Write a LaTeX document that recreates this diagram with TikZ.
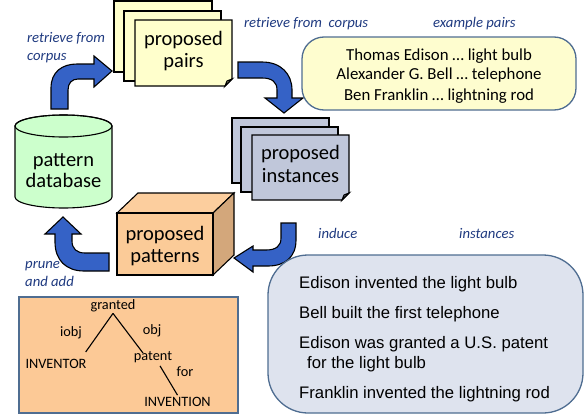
\documentclass[tikz,border=0pt]{standalone}
\usepackage{fontspec}
\setmainfont{Carlito}
\newfontfamily\arialf{Liberation Sans}
\usetikzlibrary{calc}
\definecolor{arrowblue}{HTML}{3562C6}
\definecolor{pairfill}{HTML}{FFFFCC}
\definecolor{instfill}{HTML}{C0C7DA}
\definecolor{dbfill}{HTML}{CCFFCC}
\definecolor{cubefront}{HTML}{FBCB98}
\definecolor{cubeside}{HTML}{D3A77B}
\definecolor{cubetop}{HTML}{FCCE9E}
\definecolor{treefill}{HTML}{FCC996}
\definecolor{boxline}{HTML}{4F6D91}
\definecolor{exfill}{HTML}{FEFDCF}
\definecolor{instbox}{HTML}{DEE3EE}
\definecolor{labelblue}{HTML}{1F3A80}
\newcommand{\foldsheet}[5]{%
  \filldraw[sheet, fill=#1] (#2,#3) -- (#4,#3) -- (#4,#5-7) -- (#4-7,#5) -- (#2,#5) -- cycle;
  \filldraw[sheet, fill=#1!80!black] (#4,#5-7) -- (#4-7,#5) -- (#4-5,#5-5) -- cycle;}
\begin{document}
\begin{tikzpicture}[x=1pt,y=-1pt,
  sheet/.style={draw=black, line width=1.1pt, line join=miter},
  blockarrow/.style={fill=arrowblue, draw=black, line width=1.1pt, line join=miter},
  shapetext/.style={font=\fontsize{20.5}{22.5}\selectfont, align=center, inner sep=0pt},
  lbl/.style={font=\fontsize{14.7}{18}\selectfont\itshape, text=labelblue, inner sep=0pt, align=left},
  treetext/.style={font=\fontsize{14.3}{17}\selectfont, inner sep=0pt},
  exline/.style={font=\fontsize{16.8}{18}\selectfont, inner sep=0pt, anchor=base},
  instline/.style={font=\arialf\fontsize{16.7}{19}\selectfont, inner sep=0pt, anchor=base west},
  roundbox/.style={draw=boxline, line width=1.3pt}]
\useasboundingbox (0,0) rectangle (585,415);

% proposed pairs (stack of sheets)
\filldraw[sheet, fill=pairfill] (114,1) rectangle (212,72);
\filldraw[sheet, fill=pairfill] (124,11) rectangle (221,81);
\foldsheet{pairfill}{135}{20}{232}{86}
\node[shapetext] (pairs) at (183.5,51) {proposed\\pairs};

% proposed instances (stack of sheets)
\filldraw[sheet, fill=instfill] (232,118) rectangle (329,183);
\filldraw[sheet, fill=instfill] (241,127) rectangle (338,192);
\foldsheet{instfill}{252}{135}{349}{200}
\node[shapetext] (inst) at (300.5,164) {proposed\\instances};

% pattern database (cylinder)
\filldraw[sheet, fill=dbfill] (15,126) -- (15,197)
  arc[start angle=180, end angle=360, x radius=48.5pt, y radius=11pt] -- (112,126)
  arc[start angle=0, end angle=180, x radius=48.5pt, y radius=11pt] -- cycle;
\draw[sheet] (63.5,126) ellipse [x radius=48.5pt, y radius=11pt];
\node[shapetext, font=\fontsize{20.5}{21}\selectfont] (db) at (63.5,171) {pattern\\database};

% proposed patterns (cuboid)
\filldraw[sheet, fill=cubetop] (117,213) -- (138,193) -- (234,193) -- (213,213) -- cycle;
\filldraw[sheet, fill=cubeside] (213,213) -- (234,193) -- (234,255) -- (213,275) -- cycle;
\filldraw[sheet, fill=cubefront] (117,213) rectangle (213,275);
\node[shapetext] (pat) at (165,246) {proposed\\patterns};

% block arrows
\filldraw[blockarrow] (51,109) -- (51,88) .. controls (51,72) and (62,64) .. (77,64) -- (94,64)
  -- (94,56) -- (112,71) -- (94,87) -- (94,79) -- (78,79) .. controls (72,79) and (68,83) .. (68,90)
  -- (68,109) -- cycle;
\filldraw[blockarrow] (238,62) -- (262,62) .. controls (281,62) and (292,74) .. (292,90) -- (292,98)
  -- (303,98) -- (284,113) -- (265,98) -- (277,98) -- (277,90) .. controls (277,82) and (272,78) .. (262,78)
  -- (238,78) -- cycle;
\filldraw[blockarrow] (296,223) -- (296,240) .. controls (296,257) and (285,266) .. (268,266) -- (253,266)
  -- (253,272) -- (234,258) -- (253,246) -- (253,250) -- (266,250) .. controls (276,250) and (281,246) .. (281,238)
  -- (281,223) -- cycle;
\filldraw[blockarrow] (109,253) -- (109,271) -- (84,271) .. controls (66,271) and (55,260) .. (55,242)
  -- (55,234) -- (45,234) -- (63,217) -- (81,234) -- (72,234) -- (72,241) .. controls (72,249) and (77,253) .. (85,253)
  -- cycle;

% labels
\node[lbl, anchor=north west] (l1) at (27,32) {retrieve from\\corpus};
\node[lbl, anchor=base west] (l2) at (244,27) {retrieve from\ \ corpus};
\node[lbl, anchor=base west] (l3) at (433,27) {example pairs};
\node[lbl, anchor=base west] (l4) at (318,238) {induce};
\node[lbl, anchor=base west] (l5) at (459,238) {instances};
\node[lbl, anchor=north west] (l6) at (25,261.5) {prune\\and add};

% example pairs box
\node[roundbox, fill=exfill, rounded corners=22pt, minimum width=274pt, minimum height=73pt] (expairs) at (439,73.5) {};
\node[exline] (ex1) at (439,60) {Thomas Edison … light bulb};
\node[exline] (ex2) at (439,79.5) {Alexander G. Bell … telephone};
\node[exline] (ex3) at (439,100) {Ben Franklin … lightning rod};

% instances box
\node[roundbox, fill=instbox, rounded corners=40pt, minimum width=315pt, minimum height=158pt] (instances) at (425.5,334) {};
\node[instline] (i1) at (299,288) {Edison invented the light bulb};
\node[instline] (i2) at (299,318) {Bell built the first telephone};
\node[instline] (i3) at (299,348) {Edison was granted a U.S. patent};
\node[instline] (i4) at (307,368) {for the light bulb};
\node[instline] (i5) at (299,398) {Franklin invented the lightning rod};

% dependency tree box
\node[roundbox, fill=treefill, minimum width=219pt, minimum height=116pt] (treebox) at (128.5,355) {};
\node[treetext] (granted) at (113,306) {granted};
\node[treetext] (iobj) at (71,333) {iobj};
\node[treetext] (obj) at (152,331) {obj};
\node[treetext] (inventor) at (56,364) {INVENTOR};
\node[treetext] (patent) at (153,357) {patent};
\node[treetext] (for) at (185,372) {for};
\node[treetext] (invention) at (177.5,402) {INVENTION};
\draw[line width=1.1pt] ([yshift=-1pt]granted.south) -- ([xshift=-1pt]inventor.north east |- 0,352);
\draw[line width=1.1pt] ([yshift=-1pt]granted.south) -- ([xshift=-10pt]patent.north |- 0,353);
\draw[line width=1.1pt] ([xshift=7pt,yshift=-3pt]patent.south) -- ([yshift=2pt]invention.north);
\end{tikzpicture}
\end{document}
